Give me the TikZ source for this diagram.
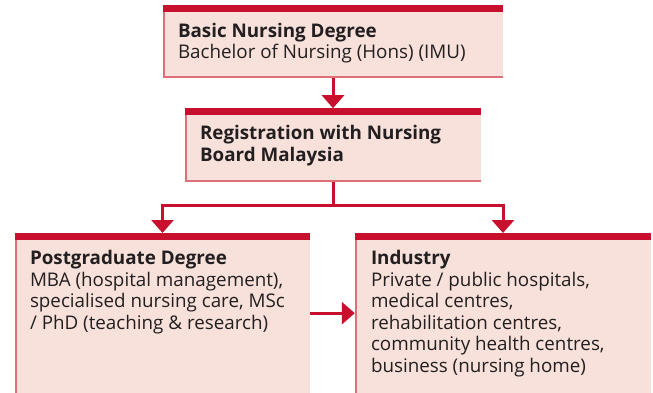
\documentclass[tikz,border=0pt]{standalone}
\usepackage{fontspec}
\setmainfont{Open Sans}
\usetikzlibrary{positioning,arrows.meta}
\definecolor{barred}{HTML}{C8102E}
\definecolor{cardfill}{HTML}{F7E1DA}
\definecolor{cardedge}{HTML}{DE6E78}
\definecolor{inktext}{HTML}{231F20}

\tikzset{
  card/.style={rectangle, fill=cardfill, inner sep=0pt,
    path picture={
      \draw[cardedge, line width=3pt] (path picture bounding box.north west)
        -- (path picture bounding box.south west) -- (path picture bounding box.south east);
      \fill[barred] (path picture bounding box.north west)
        rectangle ([yshift=-7pt]path picture bounding box.north east);
    }},
  cardtext/.style={anchor=north west, inner sep=0pt, align=left, text=inktext,
    font=\fontsize{18.8}{21.6}\selectfont},
  link/.style={draw=barred, line width=3pt, -{Triangle[width=22pt,length=13pt]}},
}

\begin{document}
\begin{tikzpicture}[x=1pt,y=-1pt]
  \useasboundingbox (0,0) rectangle (653,393);
  \clip (0,0) rectangle (653,393);

  \node[card, minimum width=340pt, minimum height=73pt] (degree) at (333,41.5) {};
  \node[card, minimum width=296pt, minimum height=73pt, below=30pt of degree] (board) {};
  \node[card, minimum width=295pt, minimum height=170pt, anchor=north] (postgrad) at (162.5,233) {};
  \node[card, minimum width=296pt, minimum height=170pt, anchor=north] (industry) at (503,233) {};

  \node[cardtext] (degreetext) at ([xshift=15pt,yshift=-18pt]degree.north west)
    {\textbf{Basic Nursing Degree}\\Bachelor of Nursing (Hons) (IMU)};
  \node[cardtext] (boardtext) at ([xshift=15pt,yshift=-17pt]board.north west)
    {\textbf{Registration with Nursing}\\\textbf{Board Malaysia}};
  \node[cardtext] (postgradtext) at ([xshift=15pt,yshift=-17pt]postgrad.north west)
    {\textbf{Postgraduate Degree}\\MBA (hospital management),\\specialised nursing care, MSc\\/ PhD (teaching \& research)};
  \node[cardtext] (industrytext) at ([xshift=16pt,yshift=-17pt]industry.north west)
    {\textbf{Industry}\\Private / public hospitals,\\medical centres,\\rehabilitation centres,\\community health centres,\\business (nursing home)};

  \coordinate (split) at ([yshift=-24pt]board.south);

  \draw[link] (degree) -- (board);
  \draw[link] (board.south) -- (split) -| (postgrad.north);
  \draw[link] (split) -| (industry.north);
  \draw[link] ([yshift=5pt]postgrad.east) -- ([yshift=5pt]industry.west);
\end{tikzpicture}
\end{document}
